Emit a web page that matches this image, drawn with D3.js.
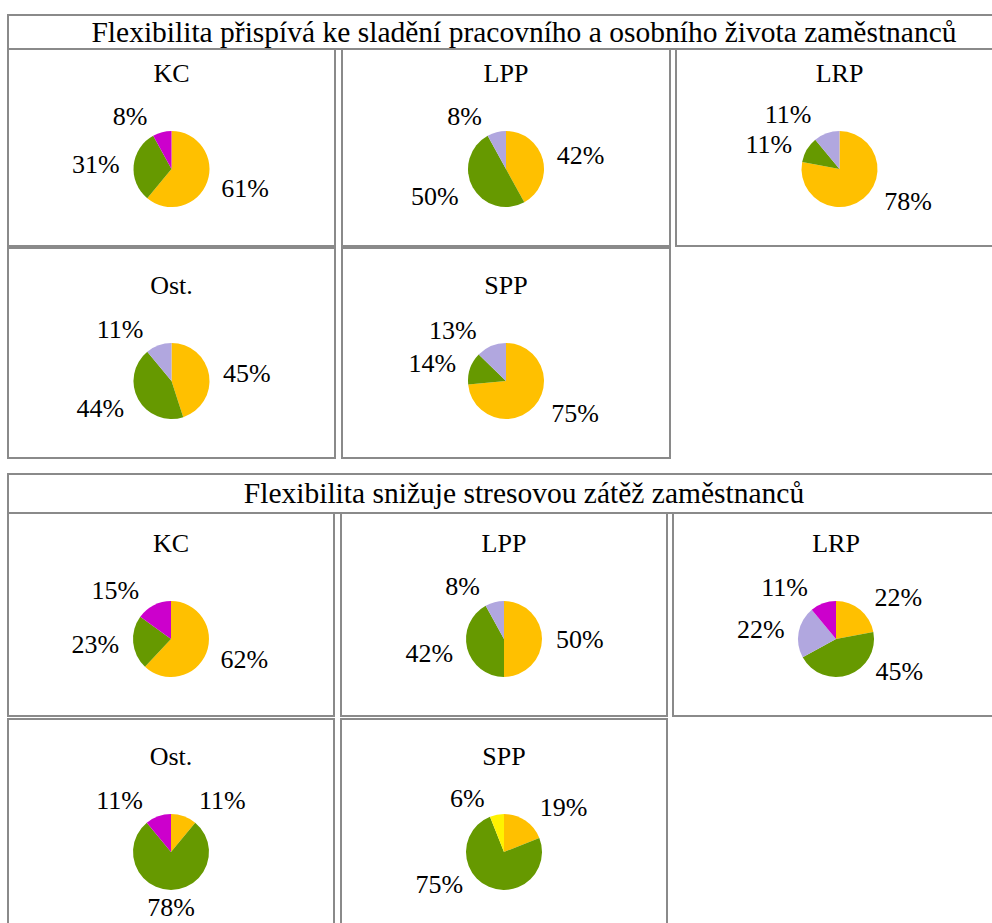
<!DOCTYPE html>
<html><head><meta charset="utf-8">
<script src="https://cdn.jsdelivr.net/npm/d3@7"></script>
<style>svg text { font-family: "Liberation Serif", "Times New Roman", Tinos, serif !important; }</style>
</head><body>
<script>
// ---- data ----
const sectionTitles = [
  "Flexibilita přispívá ke sladění pracovního a osobního života zaměstnanců",
  "Flexibilita snižuje stresovou zátěž zaměstnanců"
];
const groups = ["KC", "LPP", "LRP", "Ost.", "SPP"];
const categories = ["Kategorie 1", "Kategorie 2", "Kategorie 3", "Kategorie 4", "Kategorie 5"];
const categoryColors = ["#FFC000", "#669900", "#B1A7DF", "#CC00CC", "#FFF200"];
// values per group, in category order
const section1Values = [
  [61, 31, 0, 8, 0],   // KC
  [42, 50, 8, 0, 0],   // LPP
  [78, 11, 11, 0, 0],  // LRP
  [45, 44, 11, 0, 0],  // Ost.
  [75, 14, 13, 0, 0]   // SPP
];
const section2Values = [
  [62, 23, 0, 15, 0],  // KC
  [50, 42, 8, 0, 0],   // LPP
  [22, 45, 22, 11, 0], // LRP
  [11, 78, 0, 11, 0],  // Ost.
  [19, 75, 0, 0, 6]    // SPP
];

// ---- layout ----
const W = 992, H = 923;
const FONT = '"Liberation Serif"';
const FS = 26;
const TITLE_FS = 29.5;
const BORDER = "#8a8a8a";
const sections = [
  { title: sectionTitles[0], values: section1Values, top: 15, titleBottom: 49,
    rows: [[49, 246], [248, 458]],
    cols: [[[8, 335], [342, 670], [676, 1003]], [[8, 335], [342, 670]]] },
  { title: sectionTitles[1], values: section2Values, top: 474, titleBottom: 513,
    rows: [[513, 716], [719, 929]],
    cols: [[[8, 334], [341, 667], [673, 999]], [[8, 334], [341, 667]]] }
];
const R = 38;

d3.select("body").style("margin", "0px").style("overflow", "hidden");
const color = d3.scaleOrdinal().domain(categories).range(categoryColors);
const pie = d3.pie().sort(null).value(d => d.v);
const arc = d3.arc().innerRadius(0).outerRadius(R);

const svg = d3.select("body").append("svg").attr("width", W).attr("height", H)
  .style("display", "block");
svg.append("rect").attr("width", W).attr("height", H).attr("fill", "#fff");
const txt = sel => sel.append("text").attr("font-family", FONT).attr("font-size", FS).attr("fill", "#000");

sections.forEach(sec => {
  const g = svg.append("g");
  g.append("rect").attr("x", 8).attr("y", sec.top).attr("width", 1032)
    .attr("height", sec.titleBottom - sec.top)
    .attr("fill", "none").attr("stroke", BORDER).attr("stroke-width", 2);
  txt(g).attr("font-size", TITLE_FS).attr("x", 524).attr("y", (sec.top + sec.titleBottom) / 2 + 9.5)
    .attr("text-anchor", "middle").text(sec.title);

  let gi = 0;
  sec.rows.forEach((row, ri) => {
    sec.cols[ri].forEach(col => {
      const vals = sec.values[gi];
      const name = groups[gi];
      gi++;
      const [x0, x1] = col, [y0, y1] = row;
      g.append("rect").attr("x", x0).attr("y", y0).attr("width", x1 - x0).attr("height", y1 - y0)
        .attr("fill", "none").attr("stroke", BORDER).attr("stroke-width", 2);
      const cx = (x0 + x1) / 2, cy = y1 - 77;
      txt(g).attr("x", cx).attr("y", cy - 96 + 9)
        .attr("text-anchor", "middle").text(name);
      const data = categories.map((c, i) => ({ c, v: vals[i] })).filter(d => d.v > 0);
      const arcs = pie(data);
      const pg = g.append("g").attr("transform", `translate(${cx},${cy})`);
      pg.selectAll("path").data(arcs).join("path")
        .attr("d", arc).attr("fill", d => color(d.data.c));
      const labels = arcs.map(a => {
        const th = (a.startAngle + a.endAngle) / 2;
        const s = Math.sin(th), c = Math.cos(th);
        const t = txt(pg).attr("text-anchor", "middle").attr("dy", "0.35em").text(a.data.v + "%");
        const w = FS * (0.5 * String(a.data.v).length + 0.833);
        const k = Math.min(1, Math.abs(s) / 0.2);
        let x = Math.sign(s) * (15 + 37 * Math.abs(s) + w / 2) * k;
        let y = -c * 55;
        // lower-side labels of oblique slices sit flatter and further out
        if (c < 0 && Math.abs(s) > 0.3 && y > 32) {
          x += Math.sign(s) * (y - 32) * 0.6;
          y = 32;
        }
        return { t, w, h: 22, x, y };
      });
      for (let it = 0; it < 30; it++) {
        for (let i = 0; i < labels.length; i++) for (let j = i + 1; j < labels.length; j++) {
          const A = labels[i], B = labels[j];
          const ox = (A.w + B.w) / 2 - Math.abs(A.x - B.x);
          const need = (A.h + B.h) / 2 + 8;
          const oy = need - Math.abs(A.y - B.y);
          if (ox > 0 && oy > 0) {
            const sgn = A.y < B.y ? -1 : 1;
            A.y += sgn * oy / 2; B.y -= sgn * oy / 2;
          }
        }
      }
      labels.forEach(L => L.t.attr("x", L.x).attr("y", L.y));
    });
  });
});
</script>
</body></html>
